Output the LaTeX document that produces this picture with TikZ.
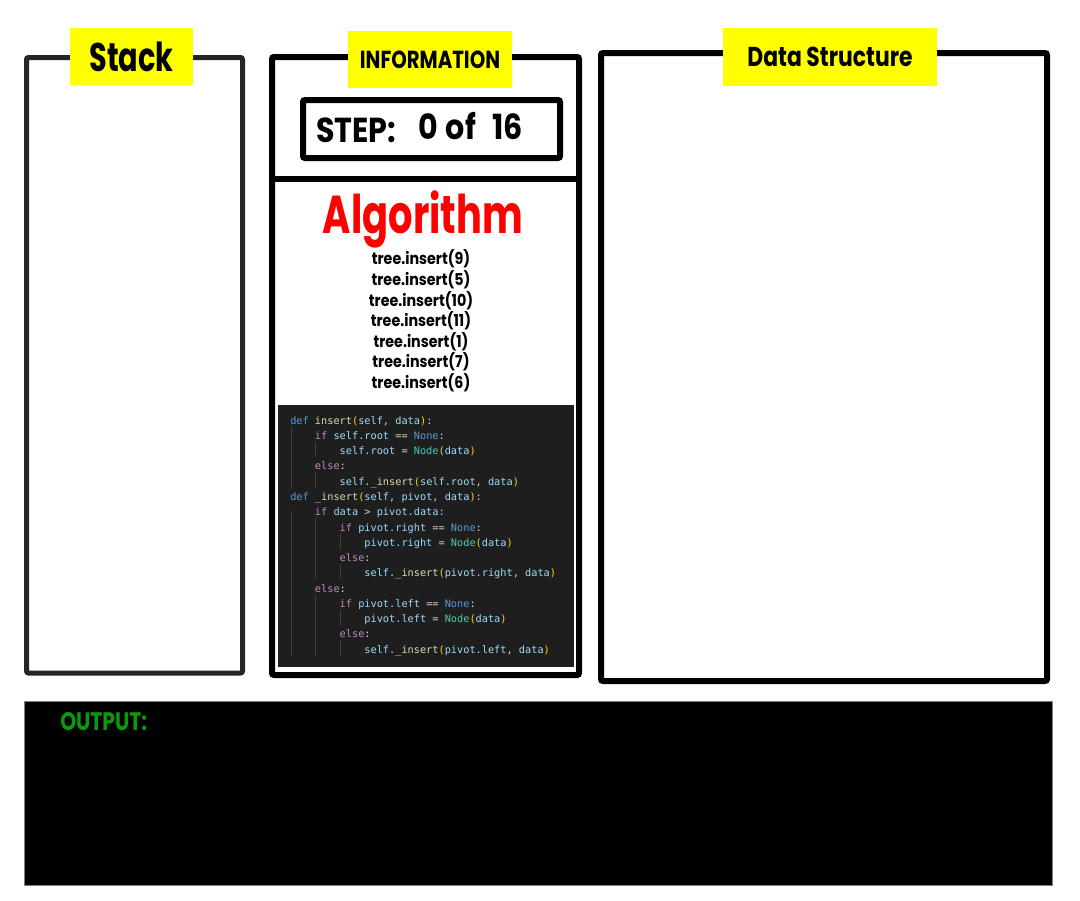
\documentclass[tikz,border=0pt]{standalone}
\usepackage{fontspec}
\newfontfamily\futfont[FakeStretch=0.72]{Poppins}
\newfontfamily\futmid[FakeStretch=0.8]{Poppins}
\newfontfamily\futwide[FakeStretch=0.87]{Poppins}
\newfontfamily\codefont{DejaVu Sans Mono}
\usetikzlibrary{positioning}

\definecolor{tagyellow}{HTML}{FFFF00}
\definecolor{stackgray}{HTML}{262626}
\definecolor{codebg}{HTML}{1E1E1E}
\definecolor{codetxt}{HTML}{D4D4D4}
\definecolor{kwblue}{HTML}{569CD6}
\definecolor{fnyellow}{HTML}{DCDCAA}
\definecolor{varblue}{HTML}{9CDCFE}
\definecolor{parengold}{HTML}{FFD700}
\definecolor{ctlpink}{HTML}{C586C0}
\definecolor{clsgreen}{HTML}{4EC9B0}
\definecolor{guidegray}{HTML}{404040}
\definecolor{outgreen}{HTML}{0A9A0A}

\newcommand\kw[1]{\textcolor{kwblue}{#1}}
\newcommand\fn[1]{\textcolor{fnyellow}{#1}}
\newcommand\vr[1]{\textcolor{varblue}{#1}}
\newcommand\pa[1]{\textcolor{parengold}{#1}}
\newcommand\ct[1]{\textcolor{ctlpink}{#1}}
\newcommand\cl[1]{\textcolor{clsgreen}{#1}}
\newcommand\tb{\hspace*{2.408em}}

\tikzset{
	panel/.style={line width=4.5pt, rounded corners=1.5pt},
	tag/.style={fill=tagyellow, inner sep=0pt},
	guide/.style={guidegray, line width=0.75pt}
}

\begin{document}
\begin{tikzpicture}[x=0.75pt, y=-0.75pt]
	\useasboundingbox[fill=white] (0,0) rectangle (1080,900);

	\draw[panel, stackgray, line width=3.75pt] (26.5,57.5) rectangle (242.5,673);
	\node[tag, minimum width=92.25pt, minimum height=42.75pt, font=\futfont\bfseries\fontsize{30}{30}\selectfont] (stack) at (131.5,56.5) {Stack};

	\draw[panel] (272,57) rectangle (579,675);
	\draw[line width=4.5pt] (272,179) -- (579,179);
	\node[tag, minimum width=123pt, minimum height=42.75pt, font=\futmid\bfseries\fontsize{18.5}{18.5}\selectfont] (info) at (430,59.5) {INFORMATION};
	\draw[panel] (303,100) rectangle (560,158);
	\node[anchor=west, inner sep=0pt, font=\futwide\bfseries\fontsize{26}{26}\selectfont] (steplbl) at (316,130) {STEP:};
	\node[right=16pt of steplbl, yshift=3pt, inner sep=0pt, font=\futwide\bfseries\fontsize{26}{26}\selectfont] (stepnum) {0\hspace{0.05em} of\hspace{0.28em} 16};

	\node[red, font=\futfont\bfseries\fontsize{40}{40}\selectfont] (algo) at (423,219) {Algorithm};
	\node[align=center, inner sep=0pt, font=\futwide\bfseries\fontsize{12.3}{15.45}\selectfont] (calls) at (421,321)
	{tree.insert(9)\\ tree.insert(5)\\ tree.insert(10)\\ tree.insert(11)\\ tree.insert(1)\\ tree.insert(7)\\ tree.insert(6)};

	\fill[codebg] (278,405) rectangle (574,667);
	\foreach \x/\a/\b in {291/426.6/487.6, 291/511/655.6, 315.5/441.9/457.2, 315.5/472.4/487.7,
		315.5/518.3/579.3, 315.5/594.6/655.6, 340/533.6/548.8, 340/564.1/579.3, 340/609.9/625.1, 340/640.4/655.6}
		\draw[guide] (\x,\a) -- (\x,\b);
	\node[anchor=north west, align=left, inner sep=0pt, codetxt, font=\codefont\fontsize{7.7}{11.45}\selectfont] (code) at (290,416)
	{\kw{def} \fn{insert}\pa{(}\vr{self}, \vr{data}\pa{)}:\\
	\tb\ct{if} \vr{self.root} == \kw{None}:\\
	\tb\tb\vr{self.root} = \cl{Node}\pa{(}\vr{data}\pa{)}\\
	\tb\ct{else}:\\
	\tb\tb\vr{self}.\fn{\_insert}\pa{(}\vr{self.root}, \vr{data}\pa{)}\\
	\kw{def} \fn{\_insert}\pa{(}\vr{self}, \vr{pivot}, \vr{data}\pa{)}:\\
	\tb\ct{if} \vr{data} > \vr{pivot.data}:\\
	\tb\tb\ct{if} \vr{pivot.right} == \kw{None}:\\
	\tb\tb\tb\vr{pivot.right} = \cl{Node}\pa{(}\vr{data}\pa{)}\\
	\tb\tb\ct{else}:\\
	\tb\tb\tb\vr{self}.\fn{\_insert}\pa{(}\vr{pivot.right}, \vr{data}\pa{)}\\
	\tb\ct{else}:\\
	\tb\tb\ct{if} \vr{pivot.left} == \kw{None}:\\
	\tb\tb\tb\vr{pivot.left} = \cl{Node}\pa{(}\vr{data}\pa{)}\\
	\tb\tb\ct{else}:\\
	\tb\tb\tb\vr{self}.\fn{\_insert}\pa{(}\vr{pivot.left}, \vr{data}\pa{)}};

	\draw[panel] (601,53) rectangle (1047,681);
	\node[tag, minimum width=160.5pt, minimum height=43.5pt, font=\futmid\bfseries\fontsize{20.5}{20.5}\selectfont] (ds) at (830,57) {Data Structure};

	\draw[fill=black, draw=gray, line width=0.75pt] (24,701) rectangle (1052,885);
	\node[anchor=west, inner sep=0pt, outgreen, font=\futmid\bfseries\fontsize{19}{19}\selectfont] (outlbl) at (60,722) {OUTPUT:};
\end{tikzpicture}
\end{document}
